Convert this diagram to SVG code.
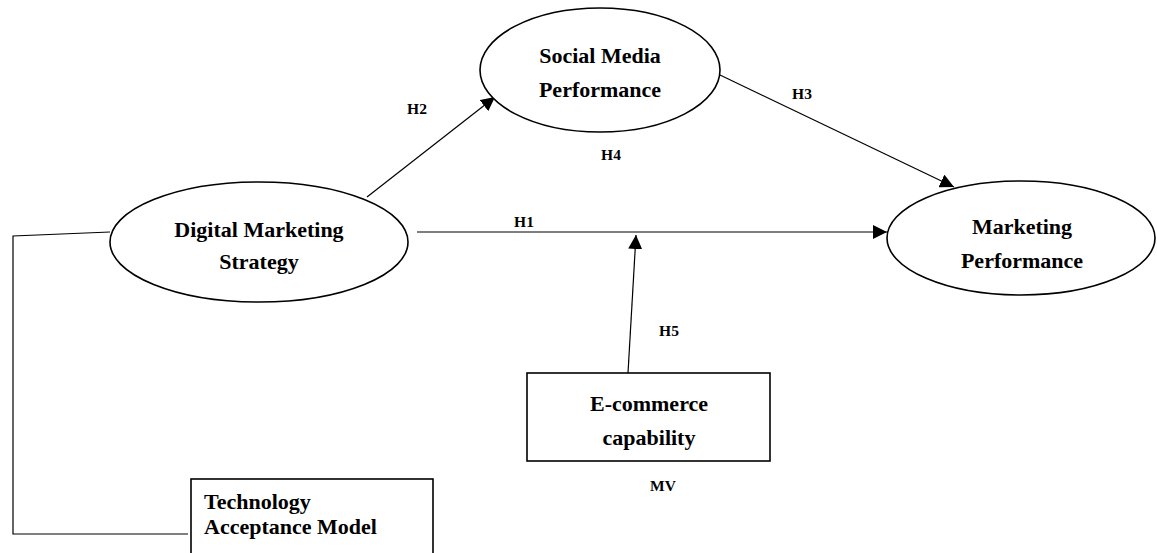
<svg xmlns="http://www.w3.org/2000/svg" width="1157" height="553" viewBox="0 0 1157 553">
<style>
.shape{fill:#fff;stroke:#000;stroke-width:1.6}
.line{fill:none;stroke:#000;stroke-width:1.2}
.node{font-family:"Liberation Serif","Times New Roman",serif;font-weight:bold;font-size:22px;fill:#000}
.lbl{font-family:"Liberation Serif","Times New Roman",serif;font-weight:bold;font-size:15.5px;fill:#000}
</style>
<defs>
<marker id="arr" viewBox="0 0 10 10" refX="10" refY="5" markerWidth="14" markerHeight="14" markerUnits="userSpaceOnUse" orient="auto">
<path d="M0,0 L10,5 L0,10 z" fill="#000"/>
</marker>
</defs>
<rect width="1157" height="553" fill="#fff"/>
<g id="connectors">
<line class="line" x1="367" y1="197" x2="495" y2="97" marker-end="url(#arr)"/>
<line class="line" x1="720" y1="75" x2="954" y2="187" marker-end="url(#arr)"/>
<line class="line" x1="417" y1="232" x2="887" y2="232" marker-end="url(#arr)"/>
<line class="line" x1="628" y1="373" x2="636" y2="235" marker-end="url(#arr)"/>
<polyline class="line" points="110,232 13,236 13,534 188,534"/>
</g>
<g id="labels">
<text class="lbl" x="417" y="114" text-anchor="middle">H2</text>
<text class="lbl" x="611" y="160" text-anchor="middle">H4</text>
<text class="lbl" x="802" y="99" text-anchor="middle">H3</text>
<text class="lbl" x="524" y="227" text-anchor="middle">H1</text>
<text class="lbl" x="669" y="336" text-anchor="middle">H5</text>
<text class="lbl" x="663" y="491" text-anchor="middle">MV</text>
</g>
<g id="dms">
<ellipse class="shape" cx="259" cy="242" rx="149" ry="60"/>
<text class="node" x="259" y="237" text-anchor="middle">Digital Marketing</text>
<text class="node" x="259" y="269" text-anchor="middle">Strategy</text>
</g>
<g id="smp">
<ellipse class="shape" cx="600" cy="70" rx="120" ry="62"/>
<text class="node" x="600" y="63" text-anchor="middle">Social Media</text>
<text class="node" x="600" y="97" text-anchor="middle">Performance</text>
</g>
<g id="mp">
<ellipse class="shape" cx="1021" cy="238" rx="134" ry="57"/>
<text class="node" x="1022" y="234" text-anchor="middle">Marketing</text>
<text class="node" x="1022" y="268" text-anchor="middle">Performance</text>
</g>
<g id="ecom">
<rect class="shape" x="527" y="373" width="243" height="88"/>
<text class="node" x="649" y="411" text-anchor="middle">E-commerce</text>
<text class="node" x="649" y="445" text-anchor="middle">capability</text>
</g>
<g id="tam">
<rect class="shape" x="191" y="479" width="242" height="90"/>
<text class="node" x="204" y="509">Technology</text>
<text class="node" x="204" y="534">Acceptance Model</text>
</g>
</svg>
